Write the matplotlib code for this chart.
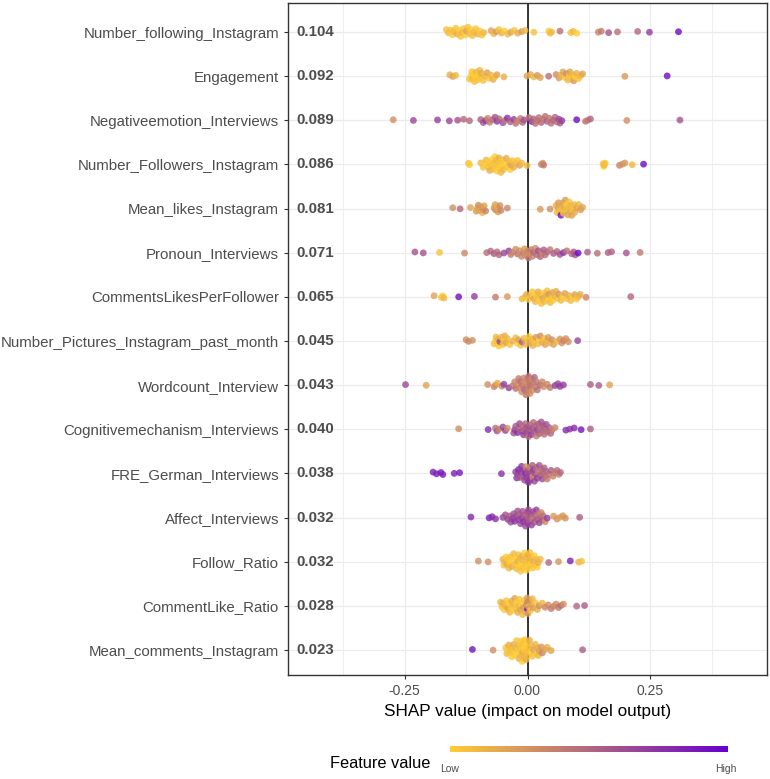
import numpy as np
import matplotlib.pyplot as plt
from matplotlib.colors import LinearSegmentedColormap
from matplotlib.cm import ScalarMappable

plt.rcParams['font.family'] = ['Liberation Sans', 'DejaVu Sans']

features = ['Number_following_Instagram', 'Engagement', 'Negativeemotion_Interviews',
            'Number_Followers_Instagram', 'Mean_likes_Instagram', 'Pronoun_Interviews',
            'CommentsLikesPerFollower', 'Number_Pictures_Instagram_past_month',
            'Wordcount_Interview', 'Cognitivemechanism_Interviews', 'FRE_German_Interviews',
            'Affect_Interviews', 'Follow_Ratio', 'CommentLike_Ratio', 'Mean_comments_Instagram']
mean_abs = ['0.104', '0.092', '0.089', '0.086', '0.081', '0.071', '0.065', '0.045',
            '0.043', '0.040', '0.038', '0.032', '0.032', '0.028', '0.023']

# SHAP values and (normalised) feature values, one pair of lists per feature
shap_following = [-0.165, -0.161, -0.157, -0.153, -0.150, -0.146, -0.143, -0.139, -0.136, -0.133,
                  -0.130, -0.127, -0.124, -0.121, -0.118, -0.115, -0.112, -0.109, -0.105, -0.101,
                  -0.097, -0.093, -0.089, -0.074, -0.069, -0.064, -0.058, -0.053, -0.047, -0.040,
                  -0.034, -0.027, -0.020, -0.012, -0.005, 0.013, 0.043, 0.046, 0.049, 0.066,
                  0.088, 0.093, 0.100, 0.144, 0.150, 0.165, 0.183, 0.224, 0.248, 0.307]
fval_following = [0.05, 0.1, 0.05, 0.0, 0.1, 0.05, 0.15, 0.0, 0.05, 0.1,
                  0.05, 0.0, 0.2, 0.05, 0.1, 0.0, 0.05, 0.1, 0.05, 0.15,
                  0.0, 0.05, 0.1, 0.2, 0.1, 0.25, 0.05, 0.15, 0.0, 0.1,
                  0.2, 0.05, 0.15, 0.25, 0.1, 0.05, 0.0, 0.05, 0.1, 0.45,
                  0.05, 0.1, 0.0, 0.35, 0.4, 0.6, 0.45, 0.5, 0.7, 0.95]

shap_engagement = [-0.158, -0.152, -0.146, -0.118, -0.115, -0.113, -0.112, -0.110, -0.108, -0.106,
                   -0.104, -0.102, -0.100, -0.097, -0.096, -0.094, -0.090, -0.086, -0.082, -0.078,
                   -0.074, -0.070, -0.066, -0.062, -0.048, -0.001, 0.006, 0.013, 0.020, 0.026,
                   0.043, 0.058, 0.064, 0.068, 0.072, 0.076, 0.079, 0.082, 0.085, 0.086,
                   0.088, 0.091, 0.094, 0.097, 0.100, 0.104, 0.108, 0.112, 0.198, 0.284]
fval_engagement = [0.15, 0.2, 0.1, 0.05, 0.0, 0.05, 0.1, 0.0, 0.05, 0.0,
                   0.1, 0.05, 0.0, 0.1, 0.05, 0.15, 0.05, 0.1, 0.2, 0.05,
                   0.1, 0.15, 0.05, 0.2, 0.15, 0.2, 0.15, 0.1, 0.25, 0.2,
                   0.45, 0.3, 0.25, 0.1, 0.2, 0.05, 0.3, 0.1, 0.0, 0.2,
                   0.05, 0.1, 0.25, 0.0, 0.15, 0.05, 0.1, 0.2, 0.25, 0.92]

shap_negemo = [-0.273, -0.232, -0.183, -0.159, -0.142, -0.130, -0.118, -0.095, -0.090, -0.085,
               -0.081, -0.077, -0.071, -0.066, -0.062, -0.058, -0.050, -0.046, -0.041, -0.035,
               -0.028, -0.024, -0.020, -0.014, -0.010, -0.007, 0.003, 0.009, 0.012, 0.016,
               0.020, 0.023, 0.028, 0.032, 0.036, 0.040, 0.044, 0.048, 0.052, 0.056,
               0.060, 0.064, 0.066, 0.070, 0.100, 0.118, 0.123, 0.128, 0.202, 0.310]
fval_negemo = [0.3, 0.65, 0.7, 0.65, 0.6, 0.5, 0.5, 0.55, 0.6, 0.7,
               0.35, 0.4, 0.45, 0.6, 0.75, 0.5, 0.65, 0.4, 0.75, 0.55,
               0.7, 0.45, 0.35, 0.4, 0.5, 0.6, 0.45, 0.8, 0.5, 0.45,
               0.4, 0.45, 0.5, 0.4, 0.45, 0.55, 0.4, 0.45, 0.5, 0.5,
               0.45, 0.65, 0.55, 0.7, 0.95, 0.45, 0.4, 0.5, 0.3, 0.6]

shap_followers = [-0.120, -0.118, -0.095, -0.090, -0.087, -0.084, -0.080, -0.079, -0.077, -0.075,
                  -0.072, -0.070, -0.068, -0.066, -0.065, -0.064, -0.062, -0.060, -0.058, -0.057,
                  -0.056, -0.054, -0.052, -0.050, -0.049, -0.046, -0.043, -0.040, -0.037, -0.035,
                  -0.034, -0.031, -0.028, -0.024, -0.020, -0.016, -0.012, -0.001, 0.028, 0.031,
                  0.033, 0.154, 0.155, 0.156, 0.158, 0.187, 0.193, 0.198, 0.213, 0.236]
fval_followers = [0.05, 0.0, 0.1, 0.05, 0.0, 0.1, 0.05, 0.0, 0.15, 0.05,
                  0.0, 0.1, 0.05, 0.0, 0.05, 0.1, 0.0, 0.05, 0.15, 0.0,
                  0.05, 0.1, 0.0, 0.05, 0.1, 0.0, 0.15, 0.05, 0.1, 0.0,
                  0.2, 0.05, 0.15, 0.1, 0.05, 0.2, 0.1, 0.1, 0.35, 0.3,
                  0.4, 0.05, 0.0, 0.1, 0.05, 0.35, 0.3, 0.25, 0.1, 0.95]

shap_likes = [-0.152, -0.137, -0.116, -0.104, -0.102, -0.100, -0.097, -0.094, -0.092, -0.090,
              -0.088, -0.085, -0.068, -0.066, -0.065, -0.062, -0.060, -0.059, -0.056, -0.054,
              -0.041, 0.026, 0.046, 0.058, 0.060, 0.062, 0.063, 0.065, 0.067, 0.068,
              0.070, 0.072, 0.073, 0.075, 0.077, 0.078, 0.080, 0.082, 0.083, 0.085,
              0.087, 0.088, 0.090, 0.093, 0.095, 0.096, 0.100, 0.104, 0.108, 0.112]
fval_likes = [0.3, 0.5, 0.2, 0.25, 0.2, 0.3, 0.2, 0.25, 0.15, 0.3,
              0.2, 0.35, 0.25, 0.2, 0.3, 0.15, 0.25, 0.2, 0.3, 0.35,
              0.35, 0.25, 0.3, 0.15, 0.1, 0.2, 0.25, 0.05, 0.15, 0.95,
              0.1, 0.2, 0.05, 0.15, 0.25, 0.1, 0.0, 0.2, 0.1, 0.05,
              0.15, 0.1, 0.2, 0.05, 0.1, 0.15, 0.2, 0.1, 0.25, 0.2]

shap_pronoun = [-0.229, -0.212, -0.179, -0.128, -0.083, -0.075, -0.068, -0.062, -0.058, -0.048,
                -0.038, -0.034, -0.030, -0.024, -0.020, -0.016, -0.012, -0.008, -0.006, -0.004,
                0.000, 0.002, 0.004, 0.008, 0.010, 0.012, 0.016, 0.019, 0.022, 0.026,
                0.030, 0.033, 0.036, 0.040, 0.046, 0.053, 0.060, 0.066, 0.073, 0.080,
                0.090, 0.094, 0.097, 0.103, 0.122, 0.142, 0.164, 0.171, 0.201, 0.229]
fval_pronoun = [0.6, 0.6, 0.05, 0.35, 0.45, 0.5, 0.55, 0.45, 0.5, 0.65,
                0.7, 0.4, 0.35, 0.3, 0.45, 0.3, 0.35, 0.4, 0.25, 0.3,
                0.35, 0.45, 0.3, 0.4, 0.35, 0.5, 0.3, 0.45, 0.6, 0.5,
                0.35, 0.55, 0.45, 0.5, 0.4, 0.55, 0.5, 0.6, 0.75, 0.45,
                0.5, 0.55, 0.6, 0.95, 0.55, 0.45, 0.55, 0.5, 0.6, 0.4]

shap_clpf = [-0.190, -0.175, -0.172, -0.170, -0.140, -0.108, -0.065, -0.041, -0.011, -0.006,
             -0.002, 0.002, 0.006, 0.010, 0.013, 0.015, 0.016, 0.019, 0.022, 0.024,
             0.025, 0.028, 0.031, 0.033, 0.034, 0.037, 0.040, 0.042, 0.043, 0.046,
             0.049, 0.051, 0.052, 0.055, 0.058, 0.061, 0.064, 0.068, 0.072, 0.076,
             0.080, 0.084, 0.088, 0.092, 0.096, 0.100, 0.104, 0.107, 0.119, 0.210]
fval_clpf = [0.2, 0.05, 0.0, 0.1, 0.92, 0.7, 0.4, 0.25, 0.1, 0.05,
             0.15, 0.0, 0.1, 0.05, 0.2, 0.0, 0.1, 0.05, 0.15, 0.0,
             0.1, 0.05, 0.2, 0.0, 0.1, 0.15, 0.05, 0.0, 0.25, 0.1,
             0.05, 0.2, 0.0, 0.1, 0.15, 0.05, 0.25, 0.1, 0.0, 0.2,
             0.05, 0.15, 0.1, 0.0, 0.2, 0.05, 0.1, 0.15, 0.35, 0.5]

shap_pictures = [-0.125, -0.120, -0.112, -0.068, -0.065, -0.064, -0.062, -0.059, -0.058, -0.056,
                 -0.053, -0.050, -0.048, -0.046, -0.044, -0.041, -0.036, -0.030, -0.024, -0.021,
                 -0.018, -0.014, -0.011, -0.007, -0.003, 0.001, 0.003, 0.005, 0.009, 0.011,
                 0.013, 0.017, 0.021, 0.024, 0.026, 0.030, 0.034, 0.036, 0.038, 0.042,
                 0.046, 0.050, 0.053, 0.060, 0.066, 0.070, 0.073, 0.078, 0.083, 0.102]
fval_pictures = [0.3, 0.35, 0.3, 0.05, 0.0, 0.1, 0.05, 0.15, 0.0, 0.65,
                 0.1, 0.05, 0.0, 0.15, 0.2, 0.1, 0.05, 0.15, 0.1, 0.0,
                 0.2, 0.05, 0.55, 0.1, 0.15, 0.05, 0.0, 0.2, 0.1, 0.15,
                 0.05, 0.25, 0.1, 0.0, 0.3, 0.15, 0.05, 0.2, 0.1, 0.25,
                 0.15, 0.3, 0.2, 0.1, 0.25, 0.3, 0.35, 0.3, 0.3, 0.65]

shap_wordcount = [-0.248, -0.206, -0.081, -0.068, -0.065, -0.061, -0.052, -0.048, -0.038, -0.030,
                  -0.026, -0.024, -0.020, -0.018, -0.016, -0.014, -0.012, -0.010, -0.008, -0.006,
                  -0.005, -0.003, -0.002, -0.001, 0.000, 0.001, 0.002, 0.003, 0.004, 0.005,
                  0.006, 0.008, 0.010, 0.012, 0.014, 0.016, 0.018, 0.020, 0.026, 0.030,
                  0.033, 0.040, 0.046, 0.056, 0.062, 0.066, 0.073, 0.128, 0.145, 0.167]
fval_wordcount = [0.65, 0.2, 0.3, 0.35, 0.3, 0.15, 0.35, 0.7, 0.7, 0.4,
                  0.35, 0.45, 0.3, 0.4, 0.35, 0.45, 0.3, 0.4, 0.35, 0.5,
                  0.3, 0.4, 0.45, 0.35, 0.4, 0.3, 0.45, 0.35, 0.4, 0.3,
                  0.45, 0.35, 0.3, 0.4, 0.5, 0.35, 0.4, 0.45, 0.5, 0.35,
                  0.3, 0.35, 0.4, 0.7, 0.65, 0.7, 0.7, 0.55, 0.55, 0.2]

shap_cognitive = [-0.140, -0.080, -0.065, -0.062, -0.058, -0.050, -0.045, -0.041, -0.028, -0.026,
                  -0.024, -0.020, -0.018, -0.016, -0.012, -0.010, -0.008, -0.006, -0.004, -0.002,
                  0.000, 0.002, 0.004, 0.006, 0.008, 0.010, 0.012, 0.014, 0.016, 0.018,
                  0.020, 0.022, 0.024, 0.026, 0.028, 0.030, 0.032, 0.034, 0.036, 0.038,
                  0.040, 0.044, 0.047, 0.050, 0.056, 0.078, 0.086, 0.095, 0.109, 0.128]
fval_cognitive = [0.3, 0.8, 0.45, 0.6, 0.35, 0.65, 0.7, 0.3, 0.6, 0.7,
                  0.55, 0.75, 0.5, 0.65, 0.6, 0.45, 0.7, 0.55, 0.5, 0.65,
                  0.6, 0.45, 0.55, 0.5, 0.7, 0.6, 0.45, 0.55, 0.5, 0.4,
                  0.65, 0.55, 0.5, 0.45, 0.6, 0.5, 0.55, 0.45, 0.5, 0.6,
                  0.45, 0.55, 0.5, 0.4, 0.35, 0.8, 0.75, 0.8, 0.9, 0.55]

shap_fre = [-0.192, -0.185, -0.176, -0.172, -0.149, -0.138, -0.053, -0.024, -0.022, -0.020,
            -0.018, -0.016, -0.014, -0.012, -0.010, -0.008, -0.006, -0.004, -0.003, -0.002,
            0.000, 0.002, 0.004, 0.005, 0.006, 0.008, 0.010, 0.011, 0.012, 0.014,
            0.016, 0.018, 0.020, 0.022, 0.024, 0.026, 0.028, 0.030, 0.032, 0.034,
            0.036, 0.038, 0.040, 0.044, 0.048, 0.052, 0.056, 0.060, 0.064, 0.067]
fval_fre = [0.85, 0.85, 0.9, 0.85, 0.85, 0.88, 0.75, 0.7, 0.75, 0.65,
            0.8, 0.6, 0.7, 0.75, 0.55, 0.7, 0.65, 0.8, 0.3, 0.7,
            0.6, 0.75, 0.65, 0.35, 0.7, 0.6, 0.55, 0.3, 0.7, 0.65,
            0.6, 0.5, 0.7, 0.4, 0.6, 0.55, 0.45, 0.65, 0.5, 0.55,
            0.45, 0.5, 0.4, 0.45, 0.55, 0.35, 0.4, 0.45, 0.35, 0.5]

shap_affect = [-0.115, -0.078, -0.072, -0.065, -0.050, -0.045, -0.040, -0.036, -0.034, -0.030,
               -0.028, -0.026, -0.024, -0.020, -0.018, -0.016, -0.014, -0.012, -0.010, -0.008,
               -0.006, -0.004, -0.002, 0.000, 0.000, 0.001, 0.002, 0.004, 0.006, 0.008,
               0.010, 0.012, 0.014, 0.016, 0.018, 0.020, 0.022, 0.024, 0.026, 0.028,
               0.030, 0.032, 0.036, 0.040, 0.053, 0.060, 0.066, 0.072, 0.077, 0.106]
fval_affect = [0.8, 0.85, 0.8, 0.75, 0.65, 0.6, 0.7, 0.55, 0.65, 0.7,
               0.6, 0.75, 0.65, 0.6, 0.7, 0.55, 0.65, 0.7, 0.6, 0.75,
               0.55, 0.65, 0.7, 0.6, 0.7, 0.5, 0.65, 0.55, 0.6, 0.7,
               0.45, 0.65, 0.6, 0.5, 0.7, 0.55, 0.4, 0.65, 0.5, 0.35,
               0.6, 0.45, 0.3, 0.7, 0.25, 0.3, 0.2, 0.25, 0.3, 0.55]

shap_followratio = [-0.100, -0.080, -0.050, -0.048, -0.046, -0.044, -0.042, -0.040, -0.038, -0.036,
                    -0.034, -0.032, -0.030, -0.028, -0.026, -0.024, -0.022, -0.020, -0.019, -0.018,
                    -0.016, -0.014, -0.012, -0.011, -0.010, -0.008, -0.006, -0.004, -0.003, -0.002,
                    0.000, 0.001, 0.002, 0.004, 0.005, 0.006, 0.008, 0.010, 0.012, 0.014,
                    0.016, 0.018, 0.020, 0.022, 0.026, 0.043, 0.063, 0.087, 0.104, 0.110]
fval_followratio = [0.3, 0.3, 0.15, 0.05, 0.1, 0.0, 0.15, 0.05, 0.1, 0.0,
                    0.05, 0.15, 0.0, 0.1, 0.05, 0.0, 0.1, 0.15, 0.05, 0.0,
                    0.1, 0.05, 0.0, 0.15, 0.05, 0.1, 0.0, 0.05, 0.1, 0.0,
                    0.05, 0.15, 0.0, 0.1, 0.05, 0.0, 0.1, 0.05, 0.15, 0.0,
                    0.05, 0.1, 0.0, 0.15, 0.1, 0.5, 0.25, 0.85, 0.1, 0.05]

shap_clratio = [-0.055, -0.052, -0.050, -0.047, -0.045, -0.043, -0.040, -0.038, -0.036, -0.034,
                -0.032, -0.030, -0.028, -0.026, -0.024, -0.022, -0.020, -0.018, -0.016, -0.014,
                -0.012, -0.010, -0.008, -0.006, -0.004, -0.002, -0.001, 0.000, 0.000, 0.001,
                0.002, 0.004, 0.006, 0.008, 0.010, 0.012, 0.016, 0.020, 0.024, 0.030,
                0.036, 0.042, 0.048, 0.053, 0.058, 0.063, 0.068, 0.073, 0.100, 0.116]
fval_clratio = [0.1, 0.05, 0.15, 0.0, 0.1, 0.05, 0.2, 0.0, 0.1, 0.05,
                0.15, 0.0, 0.1, 0.2, 0.05, 0.0, 0.15, 0.1, 0.05, 0.2,
                0.0, 0.1, 0.25, 0.05, 0.15, 0.3, 0.2, 0.95, 0.35, 0.25,
                0.1, 0.3, 0.05, 0.2, 0.1, 0.25, 0.05, 0.15, 0.3, 0.1,
                0.35, 0.3, 0.4, 0.35, 0.3, 0.4, 0.45, 0.3, 0.5, 0.55]

shap_comments = [-0.112, -0.070, -0.044, -0.042, -0.040, -0.038, -0.036, -0.034, -0.032, -0.030,
                 -0.028, -0.026, -0.024, -0.022, -0.020, -0.018, -0.017, -0.016, -0.014, -0.013,
                 -0.012, -0.011, -0.010, -0.009, -0.008, -0.007, -0.006, -0.005, -0.004, -0.003,
                 -0.002, -0.001, 0.000, 0.002, 0.004, 0.006, 0.008, 0.010, 0.012, 0.016,
                 0.018, 0.020, 0.022, 0.024, 0.028, 0.030, 0.036, 0.040, 0.048, 0.112]
fval_comments = [0.9, 0.3, 0.05, 0.1, 0.0, 0.15, 0.05, 0.1, 0.0, 0.05,
                 0.15, 0.0, 0.1, 0.05, 0.0, 0.1, 0.15, 0.05, 0.0, 0.1,
                 0.05, 0.0, 0.15, 0.05, 0.1, 0.0, 0.05, 0.1, 0.0, 0.15,
                 0.05, 0.0, 0.1, 0.05, 0.15, 0.0, 0.1, 0.05, 0.2, 0.1,
                 0.05, 0.15, 0.1, 0.2, 0.25, 0.35, 0.2, 0.15, 0.2, 0.55]

shap_rows = [shap_following, shap_engagement, shap_negemo, shap_followers, shap_likes,
             shap_pronoun, shap_clpf, shap_pictures, shap_wordcount, shap_cognitive,
             shap_fre, shap_affect, shap_followratio, shap_clratio, shap_comments]
fval_rows = [fval_following, fval_engagement, fval_negemo, fval_followers, fval_likes,
             fval_pronoun, fval_clpf, fval_pictures, fval_wordcount, fval_cognitive,
             fval_fre, fval_affect, fval_followratio, fval_clratio, fval_comments]

cmap = LinearSegmentedColormap.from_list('shap', ['#FFCC33', '#6600CC'])

fig = plt.figure(figsize=(7.7, 7.79), dpi=100)
ax = fig.add_axes([288 / 770, 1 - 675 / 779, 479 / 770, 672 / 779])

# sina-style spread: vertical width follows the local point density
def density(x, bw=0.012):
    x = np.asarray(x)
    return np.exp(-0.5 * ((x[:, None] - x[None, :]) / bw) ** 2).sum(axis=1)

dens = [density(s) for s in shap_rows]
dmax = max(d.max() for d in dens)

for i, (s, c, d) in enumerate(zip(shap_rows, fval_rows, dens)):
    n = min(len(s), len(c))
    s = np.asarray(s[:n])
    c = np.asarray(c[:n])
    order = np.argsort(s, kind='stable')
    u = np.empty(n)
    u[order] = ((np.arange(n) * 0.618034) % 1) * 2 - 1
    y = i + (d[:n] / dmax) * 0.27 * u
    ax.scatter(s, y, c=c, cmap=cmap, vmin=0, vmax=1, s=24, alpha=0.8,
               linewidths=0, zorder=3)
    ax.text(0.017, i, mean_abs[i], transform=ax.get_yaxis_transform(),
            ha='left', va='center', fontsize=10.8, fontweight='bold', color='#4D4D4D', zorder=4)

ax.axvline(0, color='black', lw=1.1, zorder=2)

ax.set_xlim(-0.487, 0.487)
ax.set_ylim(14 + 0.566, -0.657)
ax.set_yticks(range(len(features)))
ax.set_yticklabels(features, fontsize=10.8, color='#4D4D4D')
ax.set_xticks([-0.25, 0, 0.25])
ax.set_xticklabels(['-0.25', '0.00', '0.25'], fontsize=10, color='#4D4D4D')
ax.set_xticks([-0.375, -0.125, 0.125, 0.375], minor=True)
ax.tick_params(axis='both', which='major', length=3, width=0.8, color='#333333', pad=3.5)
ax.tick_params(axis='x', which='minor', length=0)
ax.grid(True, which='major', color='#EBEBEB', lw=0.9, zorder=0)
ax.grid(True, which='minor', axis='x', color='#EBEBEB', lw=0.6, zorder=0)
ax.set_axisbelow(True)
for sp in ax.spines.values():
    sp.set_color('#333333')
    sp.set_linewidth(1.0)

ax.set_xlabel('SHAP value (impact on model output)', fontsize=12.3, labelpad=4)

# legend: colour bar
cax = fig.add_axes([450 / 770, 1 - 752 / 779, 278 / 770, 6 / 779])
cb = fig.colorbar(ScalarMappable(cmap=cmap), cax=cax, orientation='horizontal')
cb.outline.set_visible(False)
cb.set_ticks([])
fig.text(330 / 770, 1 - 763 / 779, 'Feature value', fontsize=11.8, ha='left', va='center')
fig.text(440 / 770, 1 - 769 / 779, 'Low', fontsize=7.5, ha='left', va='center', color='#4D4D4D')
fig.text(737 / 770, 1 - 769 / 779, 'High', fontsize=7.5, ha='right', va='center', color='#4D4D4D')

fig.savefig('out.png', dpi=100)
